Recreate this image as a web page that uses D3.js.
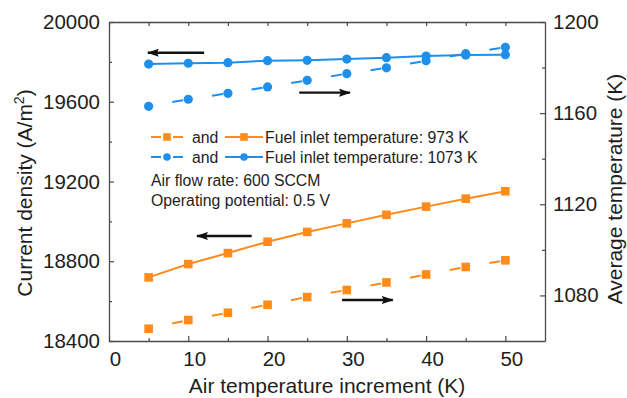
<!DOCTYPE html>
<html>
<head>
<meta charset="utf-8">
<script src="https://cdn.jsdelivr.net/npm/d3@7"></script>
<style>
  body { margin: 0; background: #fff; }
  svg { display: block; font-family: "Liberation Sans", Arial, sans-serif; }
</style>
</head>
<body>
<svg id="chart" width="627" height="398"></svg>
<script>
// ---- data ----
const airInc = [5, 10, 15, 20, 25, 30, 35, 40, 45, 50];
const cd1073 = [19789, 19793, 19796, 19806, 19808, 19814, 19821, 19829, 19834, 19836];
const temp1073 = [1163.0, 1166.1, 1168.7, 1171.5, 1174.4, 1177.3, 1179.9, 1183.0, 1186.1, 1188.9];
const cd973 = [18719, 18786, 18841, 18898, 18947, 18990, 19033, 19074, 19114, 19151];
const temp973 = [1065.4, 1069.2, 1072.4, 1075.9, 1079.3, 1082.4, 1085.7, 1089.2, 1092.5, 1095.4];
const xTicks = [0, 10, 20, 30, 40, 50];
const yLeftTicks = [18400, 18800, 19200, 19600, 20000];
const yRightTicks = [1080, 1120, 1160, 1200];
const legendRows = ["Fuel inlet temperature: 973 K", "Fuel inlet temperature: 1073 K"];
const notes = ["Air flow rate: 600 SCCM", "Operating potential: 0.5 V"];
// arrows: [x0, x1, y, axis]
const arrows = [
  [12.0, 4.9, 19846, "L"],
  [24.0, 30.4, 1169.0, "R"],
  [18.0, 11.1, 18927, "L"],
  [29.4, 35.8, 1078.0, "R"]
];

const blue = "#1f8fec";
const orange = "#ff8c1a";
const axisCol = "#4a4a4a";
const textCol = "#1e1e1e";

const margin = { top: 22, right: 82, bottom: 57, left: 109 };
const W = 627, H = 398;
const iw = W - margin.left - margin.right;
const ih = H - margin.top - margin.bottom;

const svg = d3.select("#chart");
const g = svg.append("g").attr("transform", `translate(${margin.left},${margin.top})`);

const x = d3.scaleLinear().domain([0, 55]).range([0, iw]);
const yL = d3.scaleLinear().domain([18400, 20000]).range([ih, 0]);
const yR = d3.scaleLinear().domain([1060, 1200]).range([ih, 0]);

// ---- axes (ticks inward) ----
function styleAxis(sel) {
  sel.select(".domain").attr("stroke", axisCol).attr("stroke-width", 1.3);
  sel.selectAll(".tick line").attr("stroke", axisCol).attr("stroke-width", 1.2);
  sel.selectAll(".tick text").attr("fill", textCol).style("font-size", "20.5px");
}
const xMinor = d3.range(5, 55, 10);

const gx = g.append("g").attr("transform", `translate(0,${ih})`)
  .call(d3.axisBottom(x).tickValues(xTicks).tickSize(-5).tickPadding(10).tickSizeOuter(0));
styleAxis(gx);
gx.selectAll(".tick text").attr("dx", 6);
g.append("g").attr("transform", `translate(0,${ih})`)
  .call(d3.axisBottom(x).tickValues(xMinor).tickSize(-3).tickFormat("").tickSizeOuter(0))
  .call(s => { s.select(".domain").remove(); s.selectAll("line").attr("stroke", axisCol).attr("stroke-width", 1.2); });

const gt = g.append("g")
  .call(d3.axisTop(x).tickValues(xTicks.concat(xMinor)).tickSize(-4).tickFormat("").tickSizeOuter(0));
styleAxis(gt);

const gl = g.append("g")
  .call(d3.axisLeft(yL).tickValues(yLeftTicks).tickSize(-5).tickPadding(9).tickFormat(d3.format("d")).tickSizeOuter(0));
styleAxis(gl);
g.append("g")
  .call(d3.axisLeft(yL).tickValues(d3.range(18600, 20000, 400)).tickSize(-3).tickFormat("").tickSizeOuter(0))
  .call(s => { s.select(".domain").remove(); s.selectAll("line").attr("stroke", axisCol).attr("stroke-width", 1.2); });

const gr = g.append("g").attr("transform", `translate(${iw},0)`)
  .call(d3.axisRight(yR).tickValues(yRightTicks).tickSize(-5).tickPadding(8).tickFormat(d3.format("d")).tickSizeOuter(0));
styleAxis(gr);
g.append("g").attr("transform", `translate(${iw},0)`)
  .call(d3.axisRight(yR).tickValues(d3.range(1100, 1200, 40)).tickSize(-3).tickFormat("").tickSizeOuter(0))
  .call(s => { s.select(".domain").remove(); s.selectAll("line").attr("stroke", axisCol).attr("stroke-width", 1.2); });

// ---- axis titles ----
svg.append("text").attr("x", margin.left + iw / 2).attr("y", 393)
  .attr("text-anchor", "middle").attr("fill", textCol).style("font-size", "21px")
  .text("Air temperature increment (K)");

const lt = svg.append("text").attr("transform", "translate(32,193) rotate(-90)")
  .attr("text-anchor", "middle").attr("fill", textCol).style("font-size", "21px");
lt.append("tspan").text("Current density (A/m");
lt.append("tspan").attr("dy", -8).style("font-size", "14px").text("2");
lt.append("tspan").attr("dy", 8).text(")");

svg.append("text").attr("transform", "translate(622,189) rotate(-90)")
  .attr("text-anchor", "middle").attr("fill", textCol).style("font-size", "21px")
  .text("Average temperature (K)");

// ---- series ----
function solidSeries(ys, yScale, color, marker) {
  const pts = airInc.map((d, i) => [x(d), yScale(ys[i])]);
  g.append("path").attr("d", d3.line()(pts)).attr("fill", "none")
    .attr("stroke", color).attr("stroke-width", 2);
  drawMarkers(pts, color, marker);
}
function dashedSeries(ys, yScale, color, marker) {
  const pts = airInc.map((d, i) => [x(d), yScale(ys[i])]);
  g.selectAll(null).data(d3.pairs(pts)).enter().append("line")
    .attr("x1", d => d[0][0]).attr("y1", d => d[0][1])
    .attr("x2", d => d[1][0]).attr("y2", d => d[1][1])
    .attr("stroke", color).attr("stroke-width", 2)
    .attr("stroke-dasharray", "0,24,11,100");
  drawMarkers(pts, color, marker);
}
function drawMarkers(pts, color, marker) {
  if (marker === "circle") {
    g.selectAll(null).data(pts).enter().append("circle")
      .attr("cx", d => d[0]).attr("cy", d => d[1]).attr("r", 4.6).attr("fill", color);
  } else {
    g.selectAll(null).data(pts).enter().append("rect")
      .attr("x", d => d[0] - 4.3).attr("y", d => d[1] - 4.3)
      .attr("width", 8.6).attr("height", 8.6).attr("fill", color);
  }
}
solidSeries(cd1073, yL, blue, "circle");
dashedSeries(temp1073, yR, blue, "circle");
solidSeries(cd973, yL, orange, "square");
dashedSeries(temp973, yR, orange, "square");

// ---- arrows ----
svg.append("defs").append("marker").attr("id", "ah")
  .attr("viewBox", "0 0 12 8").attr("refX", 11).attr("refY", 4)
  .attr("markerWidth", 12).attr("markerHeight", 8).attr("markerUnits", "userSpaceOnUse")
  .attr("orient", "auto")
  .append("path").attr("d", "M0,0 L12,4 L0,8 L2,4 Z").attr("fill", "#111");
g.selectAll(null).data(arrows).enter().append("line")
  .attr("x1", d => x(d[0])).attr("x2", d => x(d[1]))
  .attr("y1", d => (d[3] === "L" ? yL : yR)(d[2]))
  .attr("y2", d => (d[3] === "L" ? yL : yR)(d[2]))
  .attr("stroke", "#111").attr("stroke-width", 2.4)
  .attr("marker-end", "url(#ah)");

// ---- legend ----
const leg = svg.append("g");
const legColors = [orange, blue];
const legMarkers = ["square", "circle"];
legendRows.forEach((txt, i) => {
  const cy = 137 + i * 20;
  const c = legColors[i];
  // dashed sample
  leg.append("line").attr("x1", 151).attr("x2", 161).attr("y1", cy).attr("y2", cy)
    .attr("stroke", c).attr("stroke-width", 2);
  leg.append("line").attr("x1", 173).attr("x2", 183).attr("y1", cy).attr("y2", cy)
    .attr("stroke", c).attr("stroke-width", 2);
  // solid sample
  leg.append("line").attr("x1", 225).attr("x2", 263).attr("y1", cy).attr("y2", cy)
    .attr("stroke", c).attr("stroke-width", 2);
  [167, 244].forEach(mx => {
    if (legMarkers[i] === "circle") {
      leg.append("circle").attr("cx", mx).attr("cy", cy).attr("r", 3.8).attr("fill", c);
    } else {
      leg.append("rect").attr("x", mx - 3.8).attr("y", cy - 3.8).attr("width", 7.6).attr("height", 7.6).attr("fill", c);
    }
  });
  leg.append("text").attr("x", 192).attr("y", cy + 5.5).attr("fill", textCol)
    .style("font-size", "15.8px").text("and");
  leg.append("text").attr("x", 265).attr("y", cy + 5.5).attr("fill", textCol)
    .style("font-size", "15.8px").text(txt);
});
notes.forEach((txt, i) => {
  leg.append("text").attr("x", 151).attr("y", 186 + i * 19.5).attr("fill", textCol)
    .style("font-size", "15.8px").text(txt);
});
</script>
</body>
</html>
